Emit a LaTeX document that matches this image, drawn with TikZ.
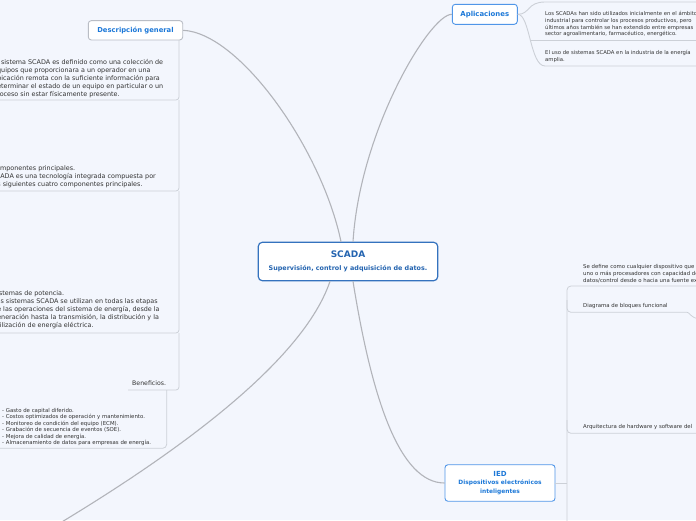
\documentclass[tikz,border=0pt]{standalone}
\usepackage{fontspec}
\setmainfont{DejaVu Sans}
\definecolor{bg}{RGB}{243,246,253}
\definecolor{connc}{RGB}{178,180,186}
\definecolor{sublc}{RGB}{204,208,215}
\definecolor{txt}{RGB}{51,51,51}
\definecolor{mainb}{RGB}{52,114,190}
\definecolor{maint}{RGB}{36,100,176}
\definecolor{blueb}{RGB}{80,150,232}
\definecolor{bluet}{RGB}{28,120,216}
\definecolor{grayb}{RGB}{185,189,197}
\begin{document}
\begin{tikzpicture}[x=1pt,y=-1pt,
  conn/.style={draw=connc, line width=1.1pt},
  branch/.style={draw=sublc, line width=0.9pt},
  subline/.style={draw=sublc, line width=0.75pt},
  body/.style={font=\fontsize{6.4}{8.1}\selectfont, text=txt, align=left, inner sep=0pt, anchor=base west},
  small/.style={font=\fontsize{5.3}{6.6}\selectfont, text=txt, align=left, inner sep=0pt, anchor=base west},
  topic/.style={draw, fill=white, rounded corners=3pt, inner sep=0pt, line width=0.9pt, font=\fontsize{6.8}{8}\selectfont\bfseries, text=bluet}
]
\useasboundingbox (0,0) rectangle (696,520);
\fill[bg] (0,0) rectangle (696,520);
\clip (0,0) rectangle (696,520);

% main topics
\node[topic, draw=mainb, line width=1.2pt, rounded corners=4pt, minimum width=179.4pt, minimum height=38.4pt, align=center, font=\fontsize{6.4}{12.7}\selectfont\bfseries, text=maint] (scada) at (348,261.5) {{\fontsize{9}{10}\selectfont SCADA}\\Supervisión, control y adquisición de datos.};
\node[topic, draw=grayb, minimum width=94.4pt, minimum height=19.3pt] (desc) at (135.5,30.3) {Descripción general};
\node[topic, draw=blueb, minimum width=65pt, minimum height=20pt, font=\fontsize{6.9}{8}\selectfont\bfseries] (apl) at (484.8,14.3) {Aplicaciones};
\node[topic, draw=blueb, minimum width=110pt, minimum height=36.5pt, align=center, font=\fontsize{5.9}{8.5}\selectfont\bfseries] (ied) at (500,483) {{\fontsize{7}{8}\selectfont IED}\\Dispositivos electrónicos\\inteligentes};

% main connectors
\coordinate (sTopL) at ([xshift=-7pt]scada.north);
\coordinate (sTopR) at ([xshift=5pt]scada.north);
\coordinate (sBotL) at ([xshift=-18pt]scada.south);
\coordinate (sBotR) at ([xshift=5pt]scada.south);
\coordinate (offBL) at (40,535);
\draw[conn] (desc.east) .. controls (240,33) and (322,150) .. (sTopL);
\draw[conn] (apl.west) .. controls (430,14) and (360,130) .. (sTopR);
\draw[conn] (sBotR) .. controls (372,400) and (400,483) .. (ied.west);
\draw[conn] (sBotL) .. controls (300,370) and (150,470) .. (offBL);

% Aplicaciones children
\draw[branch] (apl.east) .. controls (530,14.3) and (527,2) .. (545,2) -- (700,2);
\draw[branch] (apl.east) .. controls (530,14.3) and (530,66) .. (545,66) -- (700,66);
\draw[subline] (530,40) -- (700,40);
\node[small] (apl1) at (545,35.6) {Los SCADAs han sido utilizados inicialmente en el ámbito\\industrial para controlar los procesos productivos, pero\\últimos años también se han extendido entre empresas\\sector agroalimentario, farmacéutico, energético.};
\node[small] (apl2) at (545,61.1) {El uso de sistemas SCADA en la industria de la energía\\amplia.};

% Descripcion general children
\draw[subline, rounded corners=3pt] (-5,100) -- (179,100) -- (179,40);
\draw[subline, rounded corners=3pt] (-5,191) -- (179,191) -- (179,100);
\draw[subline, rounded corners=3pt] (-5,333) -- (179,333) -- (179,191);
\draw[subline, rounded corners=3pt] (128,390) -- (179,390) -- (179,333);
\draw[subline, rounded corners=4pt] (166.7,390) -- (166.7,448.3) -- (-5,448.3);
\node[body] (d1) at (-7,96.4) {El sistema SCADA es definido como una colección de\\equipos que proporcionara a un operador en una\\ubicación remota con la suficiente información para\\determinar el estado de un equipo en particular o un\\proceso sin estar físicamente presente.};
\node[body] (d2) at (-8.4,186.2) {Componentes principales.\\SCADA es una tecnología integrada compuesta por\\los siguientes cuatro componentes principales.};
\node[body] (d3) at (-7,327.9) {Sistemas de potencia.\\Los sistemas SCADA se utilizan en todas las etapas\\de las operaciones del sistema de energía, desde la\\generación hasta la transmisión, la distribución y la\\utilización de energía eléctrica.};
\node[body, font=\fontsize{6.2}{8}\selectfont] (ben) at (132,385.5) {Beneficios.};
\node[small, font=\fontsize{5.4}{6.55}\selectfont] (benl) at (2,444.75) {- Gasto de capital diferido.\\- Costos optimizados de operación y mantenimiento.\\- Monitoreo de condición del equipo (ECM).\\- Grabación de secuencia de eventos (SOE).\\- Mejora de calidad de energía.\\- Almacenamiento de datos para empresas de energía.};

% IED children
\coordinate (iedbus) at (567,483);
\draw[branch] (ied.east) -- (iedbus);
\draw[subline, rounded corners=4pt] (700,286) -- (567,286) -- (567,525);
\draw[subline, rounded corners=4pt] (567,300) -- (567,312.3) -- (683,312.3) .. controls (690,312.3) and (690,318) .. (700,319);
\draw[subline, rounded corners=4pt] (567,420) -- (567,433.3) -- (700,433.3);
\node[small, font=\fontsize{5.4}{6.8}\selectfont] (ie1) at (583,282.4) {Se define como cualquier dispositivo que\\uno o más procesadores con capacidad de\\datos/control desde o hacia una fuente externa};
\node[small, font=\fontsize{5.4}{6.8}\selectfont] (ie2) at (583,307.5) {Diagrama de bloques funcional};
\node[small, font=\fontsize{5.4}{6.8}\selectfont] (ie3) at (583,428.5) {Arquitectura de hardware y software del};
\end{tikzpicture}
\end{document}
